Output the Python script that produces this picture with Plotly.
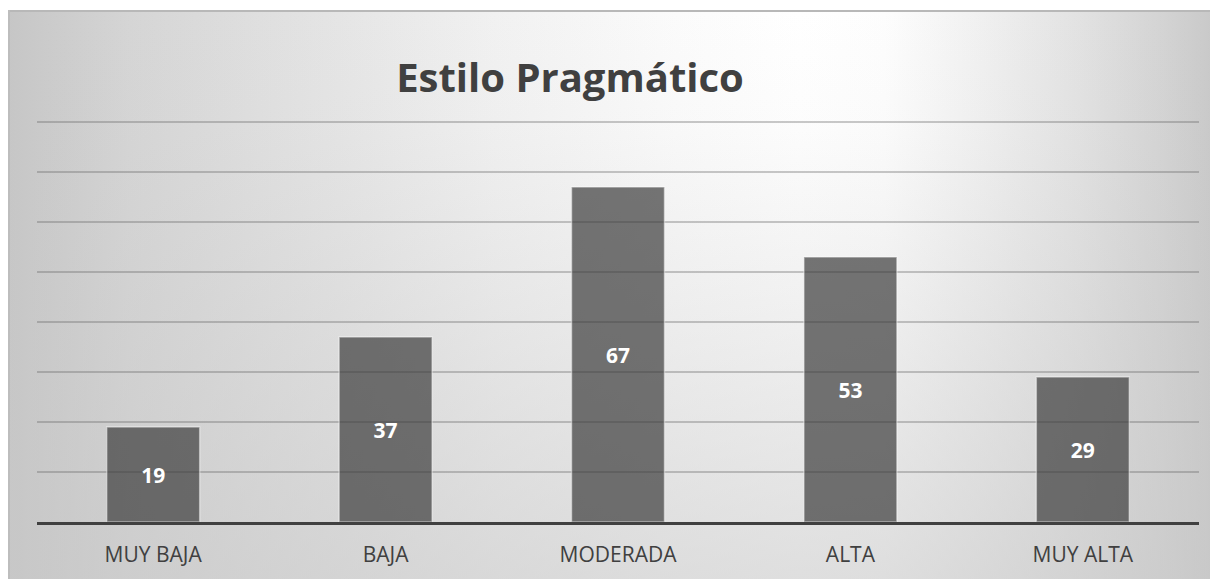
import base64
import plotly.graph_objects as go

categories = ["MUY BAJA", "BAJA", "MODERADA", "ALTA", "MUY ALTA"]
values = [19, 37, 67, 53, 29]
title_text = "Estilo Pragmático"

# page renders the figure with an 8px body offset
OFF = 8
W, H = 1218, 579
L = 37 - OFF
R = W - (1199 - OFF)
T = 117 - OFF
B = H - (522 - OFF)
pw, ph = W - L - R, H - T - B

svg = """<svg xmlns='http://www.w3.org/2000/svg' width='1212' height='569' viewBox='0 0 1212 569' preserveAspectRatio='none'>
<defs>
<linearGradient id='h' x1='0' x2='1' y1='0' y2='0'>
<stop offset='0' stop-color='#c6c6c6'/>
<stop offset='0.1' stop-color='#d5d5d5'/>
<stop offset='0.25' stop-color='#e3e3e3'/>
<stop offset='0.4' stop-color='#f1f1f1'/>
<stop offset='0.55' stop-color='#fbfbfb'/>
<stop offset='0.65' stop-color='#ffffff'/>
<stop offset='0.72' stop-color='#fdfdfd'/>
<stop offset='0.8' stop-color='#f0f0f0'/>
<stop offset='0.88' stop-color='#e2e2e2'/>
<stop offset='0.95' stop-color='#d3d3d3'/>
<stop offset='1' stop-color='#c6c6c6'/>
</linearGradient>
<linearGradient id='v' x1='0' x2='0' y1='0' y2='1'>
<stop offset='0' stop-color='#c8c8c8' stop-opacity='0'/>
<stop offset='0.2' stop-color='#c8c8c8' stop-opacity='0.05'/>
<stop offset='1' stop-color='#c8c8c8' stop-opacity='0.6'/>
</linearGradient>
</defs>
<rect x='0' y='0' width='1212' height='569' fill='url(#h)'/>
<rect x='0' y='0' width='1212' height='569' fill='url(#v)'/>
<line x1='0' y1='1' x2='1212' y2='1' stroke='#b8b8b8' stroke-width='2'/>
<line x1='1' y1='0' x2='1' y2='569' stroke='#bdbdbd' stroke-width='2'/>
</svg>"""
src = "data:image/svg+xml;base64," + base64.b64encode(svg.encode()).decode()

fx0, fy0 = 0, 10 - OFF
img_x = (fx0 - L) / pw
img_y = 1 + (T - fy0) / ph
img_sx = (W - fx0) / pw
img_sy = (H - fy0) / ph

fig = go.Figure()
fig.add_trace(go.Bar(
    x=categories,
    y=values,
    text=[str(v) for v in values],
    textposition="inside",
    insidetextanchor="middle",
    textangle=0,
    constraintext="none",
    textfont=dict(family="Open Sans", size=21, color="white", weight="bold"),
    marker=dict(color="rgba(60,60,60,0.7)",
                line=dict(color="rgba(255,255,255,0.45)", width=1.5)),
    hoverinfo="skip",
))

fig.update_layout(
    width=W, height=H,
    margin=dict(l=L, r=R, t=T, b=B),
    paper_bgcolor="white",
    plot_bgcolor="rgba(0,0,0,0)",
    bargap=0.6,
    showlegend=False,
    title=dict(
        text=title_text,
        font=dict(family="Open Sans", size=40, color="#404040", weight="bold"),
        x=(570 - OFF - L) / pw, xref="paper", xanchor="center",
        y=1 - (78 - OFF) / H, yref="container", yanchor="middle",
    ),
    images=[dict(source=src, xref="paper", yref="paper",
                 x=img_x, y=img_y, sizex=img_sx, sizey=img_sy,
                 xanchor="left", yanchor="top", sizing="stretch",
                 layer="below")],
    xaxis=dict(
        showline=True, linecolor="#404040", linewidth=3,
        showgrid=False, ticks="",
        tickfont=dict(family="Open Sans", size=21, color="#404040"),
        ticklabelstandoff=12,
    ),
    yaxis=dict(
        range=[0, 81], tick0=0, dtick=10, showticklabels=False,
        showgrid=True, gridcolor="rgba(100,100,100,0.35)", gridwidth=1.5,
        zeroline=False, showline=False,
    ),
)

fig.write_html("out.html")
